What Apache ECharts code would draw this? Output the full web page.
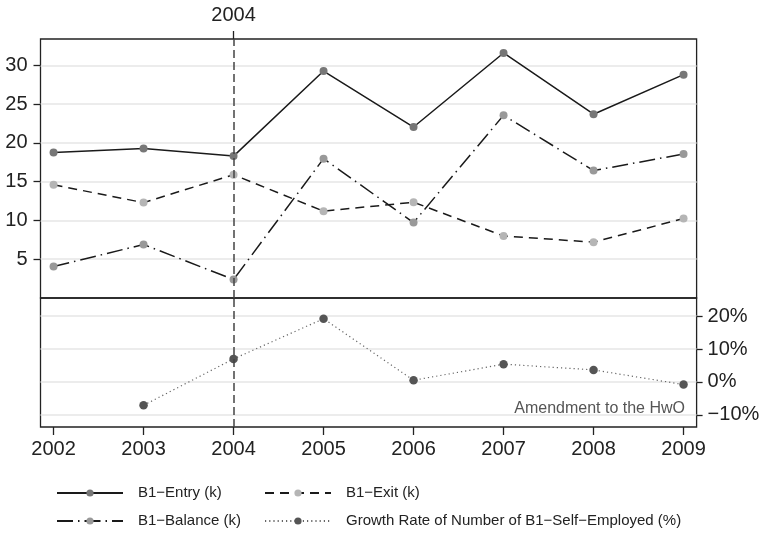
<!DOCTYPE html>
<html>
<head>
<meta charset="utf-8">
<script src="https://cdn.jsdelivr.net/npm/echarts@6/dist/echarts.min.js"></script>
<style>
html, body { margin: 0; padding: 0; background: #fff; }
#main { width: 763px; height: 533px; }
</style>
</head>
<body>
<div id="main"></div>
<script>
// data
var years = [2002, 2003, 2004, 2005, 2006, 2007, 2008, 2009];
var entry = [18.75, 19.27, 18.3, 29.27, 22.05, 31.6, 23.7, 28.8];
var exit = [14.6, 12.3, 15.9, 11.2, 12.35, 8.0, 7.2, 10.25];
var balance = [4.06, 6.9, 2.38, 17.97, 9.73, 23.56, 16.43, 18.57];
var growth = [null, -7.1, 7.0, 19.2, 0.5, 5.4, 3.65, -0.8];
var topTicks = [5, 10, 15, 20, 25, 30];
var rightTicks = [-10, 0, 10, 20];
var amendYear = 2004;

var font = "'Liberation Sans', Arial, Helvetica, sans-serif";

function pairs(vals) {
    var out = [];
    for (var i = 0; i < years.length; i++) {
        out.push([years[i], vals[i]]);
    }
    return out;
}

function yearLabel(v) {
    return String(Math.round(v));
}

// dashed line at the amendment year, used in both panels
var vline = {
    silent: true,
    symbol: 'none',
    label: {show: false},
    lineStyle: {color: '#444', type: [8, 4], width: 1.5},
    data: [{xAxis: amendYear}]
};

var chart = echarts.init(document.getElementById('main'));
var option = {
    backgroundColor: '#fff',
    animation: false,
    textStyle: {fontFamily: font},
    grid: [
        {left: 40.5, right: 66.4, top: 39, height: 259, show: true, borderColor: '#222', borderWidth: 1.3},
        {left: 40.5, right: 66.4, top: 298, height: 129, show: true, borderColor: '#222', borderWidth: 1.3}
    ],
    xAxis: [
        {
            type: 'value', gridIndex: 0, position: 'top',
            min: 2001.855, max: 2009.145,
            axisLine: {show: false, onZero: false},
            axisTick: {show: true, customValues: [amendYear], length: 8, lineStyle: {color: '#222', width: 1.3}},
            axisLabel: {customValues: [amendYear], formatter: yearLabel, color: '#222', fontSize: 20, margin: 14, fontFamily: font},
            splitLine: {show: false}
        },
        {
            type: 'value', gridIndex: 1, position: 'bottom',
            min: 2001.855, max: 2009.145,
            axisLine: {show: false, onZero: false},
            axisTick: {show: true, customValues: years, length: 8, lineStyle: {color: '#222', width: 1.3}},
            axisLabel: {customValues: years, formatter: yearLabel, color: '#222', fontSize: 20, margin: 12, fontFamily: font},
            splitLine: {show: false}
        }
    ],
    yAxis: [
        {
            type: 'value', gridIndex: 0, position: 'left',
            min: 0, max: 33.4,
            axisLine: {show: false, onZero: false},
            axisTick: {show: true, customValues: topTicks, length: 7, lineStyle: {color: '#222', width: 1.3}},
            axisLabel: {customValues: topTicks, color: '#222', fontSize: 20, margin: 13, fontFamily: font},
            splitLine: {show: true, lineStyle: {color: '#e6e6e6', width: 1.5}}
        },
        {
            type: 'value', gridIndex: 1, position: 'right',
            min: -13.7, max: 25.5,
            axisLine: {show: false, onZero: false},
            axisTick: {show: true, customValues: rightTicks, length: 6, lineStyle: {color: '#222', width: 1.3}},
            axisLabel: {
                customValues: rightTicks, color: '#222', fontSize: 20, margin: 11, fontFamily: font,
                formatter: function(v) {
                    return v < 0 ? '\u2212' + Math.abs(v) + '%' : v + '%';
                }
            },
            splitLine: {show: true, lineStyle: {color: '#e6e6e6', width: 1.5}}
        }
    ],
    legend: [
        {
            orient: 'vertical', left: 56, top: 484, itemGap: 10, padding: 0,
            itemWidth: 66, itemHeight: 9,
            textStyle: {fontSize: 15, color: '#222', lineHeight: 18, padding: [0, 0, 0, 10], fontFamily: font},
            data: ['B1\u2212Entry (k)', 'B1\u2212Balance (k)']
        },
        {
            orient: 'vertical', left: 264, top: 484, itemGap: 10, padding: 0,
            itemWidth: 66, itemHeight: 9,
            textStyle: {fontSize: 15, color: '#222', lineHeight: 18, padding: [0, 0, 0, 10], fontFamily: font},
            data: ['B1\u2212Exit (k)', 'Growth Rate of Number of B1\u2212Self\u2212Employed (%)']
        }
    ],
    graphic: [
        {
            type: 'text', right: 78, top: 401,
            style: {text: 'Amendment to the HwO', fontSize: 16, fill: '#555', fontFamily: font}
        }
    ],
    series: [
        {
            name: 'B1\u2212Entry (k)', type: 'line', xAxisIndex: 0, yAxisIndex: 0,
            data: pairs(entry),
            symbol: 'circle', symbolSize: 8,
            itemStyle: {color: '#777'},
            lineStyle: {color: '#1a1a1a', width: 1.5, type: 'solid'},
            markLine: vline,
            z: 3
        },
        {
            name: 'B1\u2212Exit (k)', type: 'line', xAxisIndex: 0, yAxisIndex: 0,
            data: pairs(exit),
            symbol: 'circle', symbolSize: 8,
            itemStyle: {color: '#b5b5b5'},
            lineStyle: {color: '#1a1a1a', width: 1.5, type: [9, 6]},
            z: 3
        },
        {
            name: 'B1\u2212Balance (k)', type: 'line', xAxisIndex: 0, yAxisIndex: 0,
            data: pairs(balance),
            symbol: 'circle', symbolSize: 8,
            itemStyle: {color: '#999'},
            lineStyle: {color: '#1a1a1a', width: 1.5, type: [16, 5, 1.5, 5]},
            z: 3
        },
        {
            name: 'Growth Rate of Number of B1\u2212Self\u2212Employed (%)', type: 'line', xAxisIndex: 1, yAxisIndex: 1,
            data: pairs(growth),
            symbol: 'circle', symbolSize: 8.5,
            itemStyle: {color: '#555'},
            lineStyle: {color: '#666', width: 1.2, type: [1.2, 3]},
            markLine: vline,
            z: 3
        }
    ]
};
chart.setOption(option);
</script>
</body>
</html>
